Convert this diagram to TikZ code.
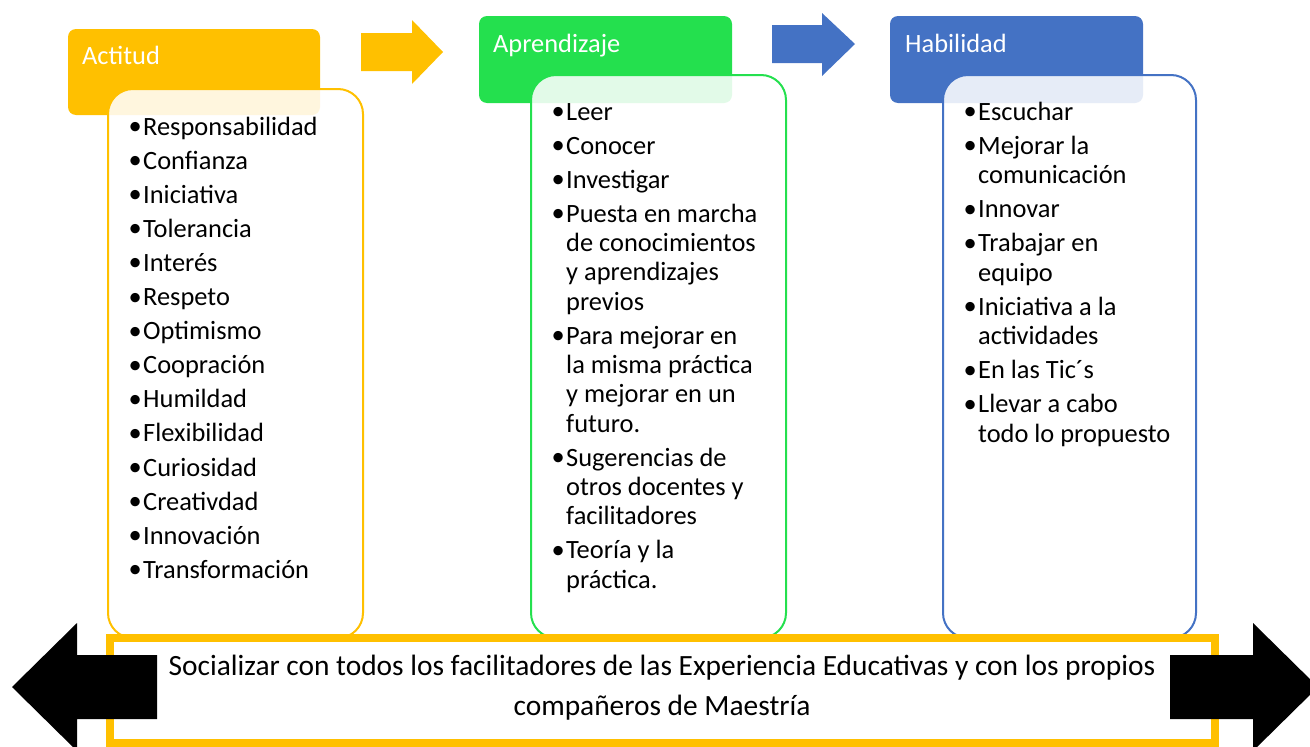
\documentclass[tikz,border=0pt]{standalone}
\usepackage{fontspec}
\setmainfont{Carlito}
\definecolor{cyel}{HTML}{FFC000}
\definecolor{cgrn}{HTML}{24E04E}
\definecolor{cblu}{HTML}{4472C4}
\newcommand\itembul{\llap{\raisebox{0.5pt}{•}\kern1.5pt}}
\tikzset{
  txt/.style={anchor=base west, inner sep=0pt, font=\fontsize{26.4}{29.3}\selectfont, text=black},
  btxt/.style={anchor=base, inner sep=0pt, font=\fontsize{29.4}{36}\selectfont, text=black},
  htxt/.style={anchor=base west, inner sep=0pt, font=\fontsize{26.4}{29.3}\selectfont, text=white},
  head/.style={rounded corners=8pt},
  listbox/.style={rounded corners=25pt, line width=2pt, fill=white, fill opacity=0.87},
}
\begin{document}
\begin{tikzpicture}[x=1pt,y=-1pt]
\useasboundingbox (0,0) rectangle (1310,747);
% headers
\fill[cyel, head] (68,29) rectangle (320,115);
\fill[cgrn, head] (479,16) rectangle (732,103);
\fill[cblu, head] (890,16) rectangle (1143,103);
\node[htxt] (hact) at (82,64) {Actitud};
\node[htxt] (hapr) at (493,52) {Aprendizaje};
\node[htxt] (hhab) at (905,52) {Habilidad};
% list boxes
\draw[listbox, draw=cyel] (108,89) rectangle (363,638);
\draw[listbox, draw=cgrn] (531,75) rectangle (786,638);
\draw[listbox, draw=cblu] (943,75) rectangle (1196,638);
% Actitud list
\foreach \y/\t [count=\i] in {135/{\itembul Responsabilidad},169.1/{\itembul Confianza},203.2/{\itembul Iniciativa},237.3/{\itembul Tolerancia},271.4/{\itembul Interés},305.5/{\itembul Respeto},339.6/{\itembul Optimismo},373.7/{\itembul Coopración},407.8/{\itembul Humildad},441.9/{\itembul Flexibilidad},476/{\itembul Curiosidad},510.1/{\itembul Creativdad},544.2/{\itembul Innovación},578.3/{\itembul Transformación}}
  \node[txt] (act\i) at (143,\y) {\t};
% Aprendizaje list
\foreach \y/\t [count=\i] in {120/{\itembul Leer},154/{\itembul Conocer},188/{\itembul Investigar},222/{\itembul Puesta en marcha},251.3/{de conocimientos},280.6/{y aprendizajes},310/{previos},344/{\itembul Para mejorar en},373.4/{la misma práctica},402.7/{y mejorar en un},432/{futuro.},466/{\itembul Sugerencias de},495.4/{otros docentes y},524.7/{facilitadores},558.8/{\itembul Teoría y la},588/{práctica.}}
  \node[txt] (apr\i) at (566,\y) {\t};
% Habilidad list
\foreach \y/\t [count=\i] in {120/{\itembul Escuchar},154/{\itembul Mejorar la},183.4/{comunicación},217.5/{\itembul Innovar},251.6/{\itembul Trabajar en},281/{equipo},315/{\itembul Iniciativa a la},344.4/{actividades},378.5/{\itembul En las Tic´s},412.6/{\itembul Llevar a cabo},442/{todo lo propuesto}}
  \node[txt] (hab\i) at (978,\y) {\t};
% bottom box
\draw[cyel, line width=8pt, fill=white] (110,638) rectangle (1215,743);
\node[btxt] (soc1) at (662,675) {Socializar con todos los facilitadores de las Experiencia Educativas y con los propios};
\node[btxt] (soc2) at (662,715) {compañeros de Maestría};
% black arrows
\fill[black] (12,687) -- (77,623) -- (77,655) -- (157,655) -- (157,719) -- (77,719) -- (77,751) -- cycle;
\fill[black] (1318,687) -- (1253,623) -- (1253,655) -- (1170,655) -- (1170,719) -- (1253,719) -- (1253,751) -- cycle;
% top arrows
\fill[cyel] (361,33) -- (412,33) -- (412,20) -- (443,52) -- (412,84) -- (412,71) -- (361,71) -- cycle;
\fill[cblu] (772,25) -- (822,25) -- (822,13) -- (855,44) -- (822,76) -- (822,63) -- (772,63) -- cycle;
\end{tikzpicture}
\end{document}
